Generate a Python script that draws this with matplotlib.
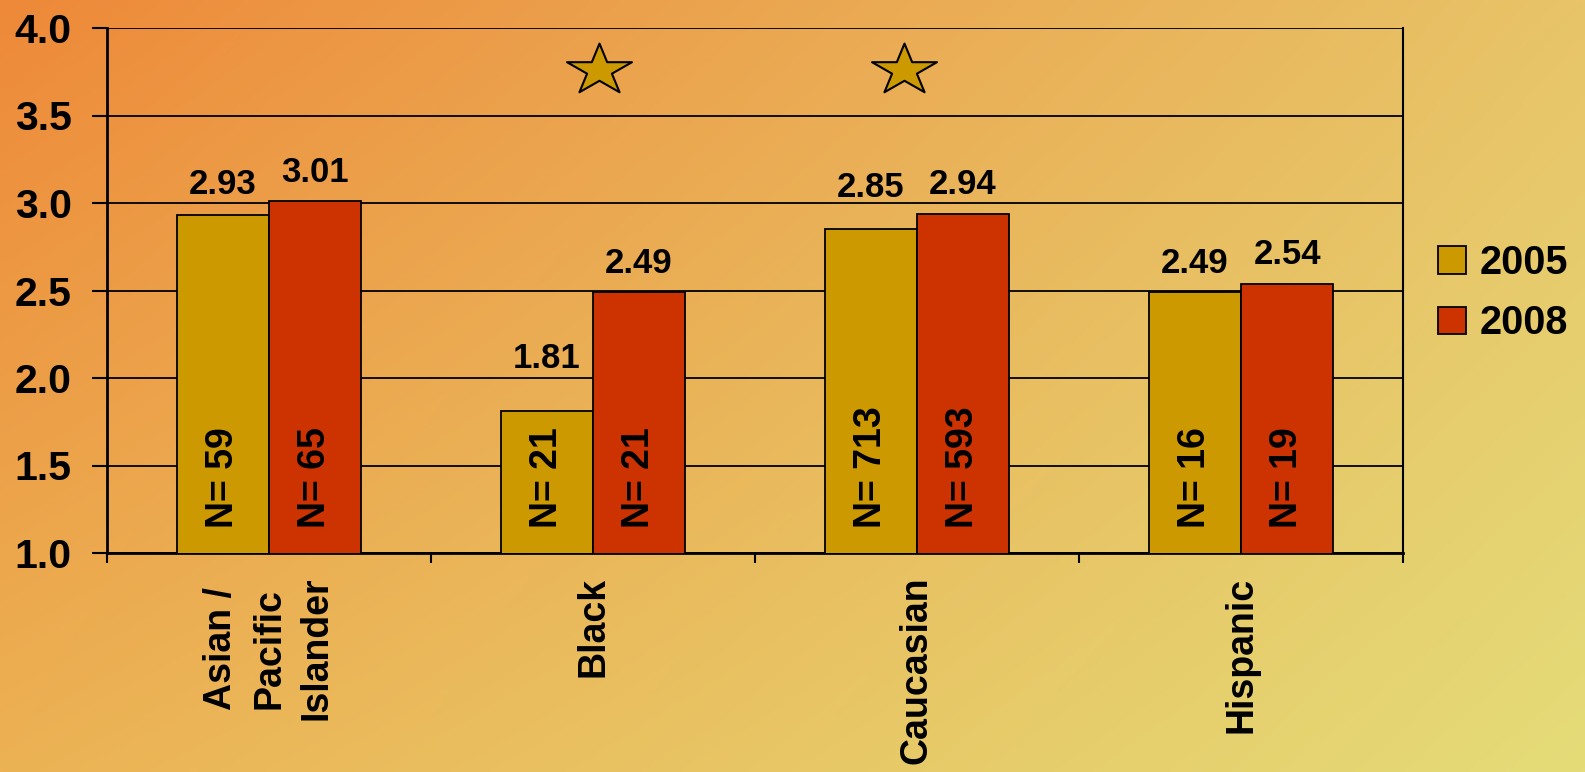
import numpy as np
import matplotlib
matplotlib.use("Agg")
import matplotlib.pyplot as plt
from matplotlib.path import Path
from matplotlib.ticker import FixedLocator

plt.rcParams['font.family'] = ['Liberation Sans', 'DejaVu Sans']
plt.rcParams['font.weight'] = 'bold'

# ---- data ----
categories = ["Asian /\nPacific\nIslander", "Black", "Caucasian", "Hispanic"]
series_names = ["2005", "2008"]
values_2005 = [2.93, 1.81, 2.85, 2.49]
values_2008 = [3.01, 2.49, 2.94, 2.54]
n_2005 = [59, 21, 713, 16]
n_2008 = [65, 21, 593, 19]
star_x = [1.02, 1.96]
star_y = [3.76, 3.76]
y_ticks = [1.0, 1.5, 2.0, 2.5, 3.0, 3.5, 4.0]

# label gaps above bars (points), layout only
gap_2005 = [15, 31, 23, 14]
gap_2008 = [14, 14, 14, 14]

c2005 = "#CC9900"
c2008 = "#CC3300"

W, H = 1585, 772
fig = plt.figure(figsize=(W / 100, H / 100), dpi=100)

# background gradient (bilinear between corner colours)
tl = np.array([238, 137, 57]) / 255
tr = np.array([232, 196, 104]) / 255
bl = np.array([236, 178, 84]) / 255
br = np.array([228, 220, 120]) / 255
gx = np.linspace(0, 1, 400)[None, :, None]
gy = np.linspace(0, 1, 200)[:, None, None]
grad = (tl * (1 - gx) * (1 - gy) + tr * gx * (1 - gy) + bl * (1 - gx) * gy + br * gx * gy)
bg = fig.add_axes([0, 0, 1, 1], zorder=-10)
bg.imshow(grad, aspect='auto', extent=[0, 1, 0, 1], origin='upper')
bg.axis('off')

ax = fig.add_axes([107 / W, 1 - 553 / H, (1403 - 107) / W, (553 - 28) / H])
ax.patch.set_alpha(0)

x = np.arange(len(categories))
bw = 0.284
b1 = ax.bar(x - bw / 2, values_2005, bw, color=c2005, edgecolor='black', linewidth=1.3,
            label=series_names[0], zorder=3)
b2 = ax.bar(x + bw / 2, values_2008, bw, color=c2008, edgecolor='black', linewidth=1.3,
            label=series_names[1], zorder=3)

ax.set_ylim(1.0, 4.0)
ax.set_xlim(-0.5, len(categories) - 0.5)
ax.set_yticks(y_ticks)
ax.set_yticklabels([f"{v:.1f}" for v in y_ticks], fontsize=29.5, fontweight='bold')
ax.yaxis.grid(True, color='black', linewidth=1.3, zorder=1)
ax.set_axisbelow(True)

ax.set_xticks(x)
ax.set_xticklabels(categories, rotation=90, fontsize=27, fontweight='bold',
                   va='top', ha='center', multialignment='center', linespacing=1.42)
ax.xaxis.set_minor_locator(FixedLocator(np.arange(-0.5, len(categories), 1.0)))
ax.tick_params(axis='x', which='major', length=0, pad=17)
ax.tick_params(axis='x', which='minor', length=7, width=1.5, direction='out')
ax.tick_params(axis='y', which='major', length=10.5, width=1.5, direction='out', pad=15)

for s in ['left', 'bottom']:
    ax.spines[s].set_linewidth(2)
ax.spines['right'].set_linewidth(1.5)
ax.spines['top'].set_visible(False)

for bars, vals, gaps, ns in [(b1, values_2005, gap_2005, n_2005), (b2, values_2008, gap_2008, n_2008)]:
    for rect, v, g, n in zip(bars, vals, gaps, ns):
        cx = rect.get_x() + rect.get_width() / 2
        ax.annotate(f"{v:.2f}", xy=(cx, v), xytext=(0, g), textcoords='offset points',
                    ha='center', va='baseline', fontsize=25, fontweight='bold', zorder=5)
        ax.annotate(f"N= {n}", xy=(cx, 1.0), xytext=(0, 18), textcoords='offset points',
                    ha='center', va='bottom', rotation=90, fontsize=27, fontweight='bold', zorder=5)

# stretched star marker
ang = np.pi / 2 + np.arange(10) * np.pi / 5
rad = np.where(np.arange(10) % 2 == 0, 1.0, 0.381966)
verts = np.column_stack([1.27 * rad * np.cos(ang), rad * np.sin(ang)])
verts = np.vstack([verts, verts[0]])
codes = [Path.MOVETO] + [Path.LINETO] * 9 + [Path.CLOSEPOLY]
star = Path(verts, codes)
ax.plot(star_x, star_y, linestyle='none', marker=star, markersize=46.8,
        markerfacecolor=c2005, markeredgecolor='black', markeredgewidth=1.5, zorder=6,
        clip_on=False)

leg = ax.legend(loc='center left', bbox_to_anchor=(1438 / W, 1 - 293 / H),
                bbox_transform=fig.transFigure, frameon=False,
                prop={'weight': 'bold', 'size': 28.5}, handlelength=0.7, handleheight=0.7,
                handletextpad=0.36, labelspacing=0.58, borderpad=0, borderaxespad=0)

fig.savefig("out.png", dpi=100)
